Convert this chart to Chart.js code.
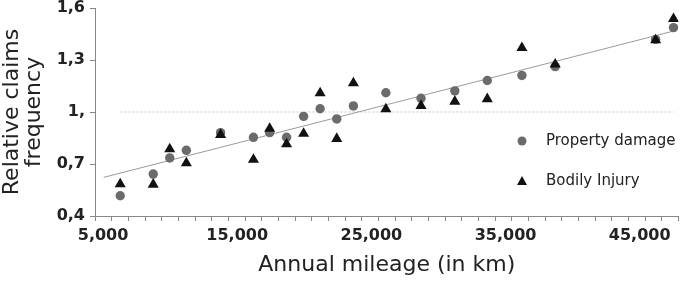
<!DOCTYPE html>
<html>
<head>
<meta charset="utf-8">
<script src="https://cdn.jsdelivr.net/npm/chart.js@4"></script>
<style>
  body { margin: 0; background: #fff; }
  #wrap { width: 685px; height: 281px; }
</style>
</head>
<body>
<div id="wrap"><canvas id="claimsChart"></canvas></div>
<script>
// annual mileage (km) of each class
var mileage = [6280, 8740, 9970, 11210, 13760, 16210, 17420, 18680, 19950, 21180,
  22420, 23660, 26080, 28700, 31220, 33640, 36220, 38700, 46190, 47520];
var propertyDamage = [0.517, 0.642, 0.735, 0.779, 0.881, 0.854, 0.881, 0.854, 0.975, 1.019,
  0.960, 1.035, 1.111, 1.079, 1.122, 1.182, 1.211, 1.262, 1.419, 1.487];
var bodilyInjury = [0.584, 0.582, 0.786, 0.705, 0.869, 0.725, 0.904, 0.815, 0.875, 1.109,
  0.846, 1.167, 1.017, 1.036, 1.061, 1.075, 1.370, 1.275, 1.415, 1.537];
// fitted trend and the reference level 1
var trendX = [5050, 47520];
var trendY = [0.623, 1.467];
var refX = [6300, 47500];
var refY = [1, 1];

var xTickValues = [5000, 15000, 25000, 35000, 45000];
var xTickLabels = ['5,000', '15,000', '25,000', '35,000', '45,000'];
var yTickValues = [0.4, 0.7, 1.0, 1.3, 1.6];
var yTickLabels = ['0,4', '0,7', '1,', '1,3', '1,6'];

var xMin = 4400, xMax = 47900, xMinorCount = 35;

function pairs(xs, ys) {
  return xs.map(function (x, i) { return { x: x, y: ys[i] }; });
}

var legendItems = [
  { label: 'Property damage', style: 'circle', color: '#6b6b6b' },
  { label: 'Bodily Injury', style: 'triangle', color: '#111' }
];

var legendPlugin = {
  id: 'sideLegend',
  afterDraw: function (chart) {
    var ctx = chart.ctx;
    var x0 = chart.chartArea.left + 427;
    var y0 = chart.chartArea.top + 133;
    ctx.save();
    ctx.font = '15px "DejaVu Sans"';
    ctx.textBaseline = 'middle';
    legendItems.forEach(function (item, i) {
      var y = y0 + i * 40;
      ctx.fillStyle = item.color;
      ctx.beginPath();
      if (item.style === 'circle') {
        ctx.arc(x0, y, 4.5, 0, Math.PI * 2);
      } else {
        ctx.moveTo(x0, y - 5);
        ctx.lineTo(x0 + 5, y + 4);
        ctx.lineTo(x0 - 5, y + 4);
        ctx.closePath();
      }
      ctx.fill();
      ctx.fillStyle = '#222';
      ctx.fillText(item.label, x0 + 24, y);
    });
    ctx.restore();
  }
};

var ctx = document.getElementById('claimsChart').getContext('2d');
var chart = new Chart(ctx, {
  type: 'scatter',
  data: {
    datasets: [{
      label: 'Bodily Injury',
      data: pairs(mileage, bodilyInjury),
      pointStyle: 'triangle',
      pointRadius: 6.4,
      backgroundColor: '#111',
      borderColor: '#111',
      borderWidth: 0
    }, {
      label: 'Property damage',
      data: pairs(mileage, propertyDamage),
      pointStyle: 'circle',
      pointRadius: 4.7,
      backgroundColor: '#6b6b6b',
      borderColor: '#6b6b6b',
      borderWidth: 0
    }, {
      label: 'Trend',
      data: pairs(trendX, trendY),
      showLine: true,
      pointRadius: 0,
      borderColor: '#9a9a9a',
      borderWidth: 1
    }, {
      label: 'Reference',
      data: pairs(refX, refY),
      showLine: true,
      pointRadius: 0,
      borderColor: '#dadada',
      borderWidth: 1.5,
      borderDash: [2, 2]
    }]
  },
  options: {
    responsive: true,
    maintainAspectRatio: false,
    animation: false,
    layout: { padding: { top: 8, right: 5, left: 0, bottom: 0 } },
    plugins: {
      legend: { display: false },
      tooltip: { enabled: false }
    },
    scales: {
      x: {
        type: 'linear',
        min: xMin,
        max: xMax,
        afterBuildTicks: function (scale) {
          var ticks = [];
          for (var k = 0; k <= xMinorCount; k++) {
            ticks.push({ value: xMin + k * (xMax - xMin) / xMinorCount });
          }
          xTickValues.forEach(function (v) { ticks.push({ value: v }); });
          ticks.sort(function (a, b) { return a.value - b.value; });
          scale.ticks = ticks;
        },
        afterFit: function (scale) {
          scale.height = 65;
          scale.paddingLeft = 0;
          scale.paddingRight = 0;
        },
        grid: {
          drawOnChartArea: false,
          tickLength: 5,
          color: function (c) {
            return c.tick && xTickValues.indexOf(c.tick.value) >= 0 ? 'rgba(0,0,0,0)' : '#888';
          }
        },
        border: { color: '#888' },
        ticks: {
          autoSkip: false,
          maxRotation: 0,
          padding: 7,
          color: '#222',
          font: { family: 'DejaVu Sans', size: 16, weight: 'bold', lineHeight: 1 },
          callback: function (v) {
            var i = xTickValues.indexOf(v);
            return i >= 0 ? xTickLabels[i] : '';
          }
        },
        title: {
          display: true,
          text: 'Annual mileage (in km)',
          color: '#222',
          font: { family: 'DejaVu Sans', size: 22, lineHeight: 1 },
          padding: { top: 0, bottom: 5 }
        }
      },
      y: {
        min: 0.4,
        max: 1.6,
        afterBuildTicks: function (scale) {
          scale.ticks = yTickValues.map(function (v) { return { value: v }; });
        },
        afterFit: function (scale) {
          scale.width = 95;
          scale.paddingTop = 0;
          scale.paddingBottom = 0;
        },
        grid: { drawOnChartArea: false, tickLength: 5, color: '#888' },
        border: { color: '#888' },
        ticks: {
          padding: 5,
          color: '#222',
          font: { family: 'DejaVu Sans', size: 16, weight: 'bold', lineHeight: 1 },
          callback: function (v) {
            var i = yTickValues.indexOf(v);
            return i >= 0 ? yTickLabels[i] : '';
          }
        },
        title: {
          display: true,
          text: ['Relative claims', 'frequency'],
          color: '#222',
          font: { family: 'DejaVu Sans', size: 22, lineHeight: 1 },
          padding: { top: 1, bottom: 0 }
        }
      }
    }
  },
  plugins: [legendPlugin]
});
</script>
</body>
</html>
